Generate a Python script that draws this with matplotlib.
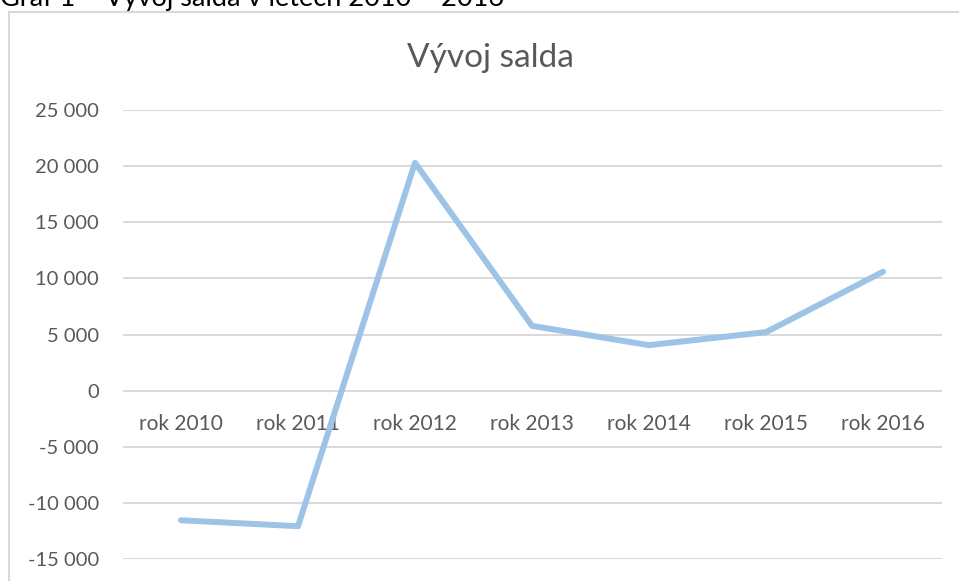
import numpy as np
import matplotlib
matplotlib.use('Agg')
import matplotlib.pyplot as plt
from matplotlib.patches import Rectangle

# data
years = ['rok 2010', 'rok 2011', 'rok 2012', 'rok 2013', 'rok 2014', 'rok 2015', 'rok 2016']
saldo = [-11550, -12080, 20300, 5770, 4050, 5210, 10590]
y_ticks = [-15000, -10000, -5000, 0, 5000, 10000, 15000, 20000, 25000]

plt.rcParams['font.family'] = ['Lato', 'DejaVu Sans']

W, H = 959, 581
fig = plt.figure(figsize=(W / 100, H / 100), dpi=100)

# ramecek grafu (vpravo a dole oriznuty)
fig.patches.append(Rectangle((9 / W, -0.2), 1.2, 1 - 12 / H + 0.2,
                             transform=fig.transFigure, fill=False,
                             edgecolor='#d9d9d9', linewidth=1.5))

# popisek nad grafem - horni cast je oriznuta
fig.text(0 / W, 1 - 6 / H, 'Graf 1 – Vývoj salda v letech 2010 – 2016',
         fontsize=19.5, color='black', va='baseline', ha='left')

ax = fig.add_axes([122.5 / W, 22 / H, (941.5 - 122.5) / W, (559 - 110) / H])

x = np.arange(len(years))
ax.plot(x, saldo, color='#9dc3e6', linewidth=4.3,
        solid_capstyle='round', solid_joinstyle='round', zorder=3)

ax.set_xlim(-0.5, len(years) - 0.5)
ax.set_ylim(-15000, 25000)
ax.set_yticks(y_ticks)
ax.set_yticklabels([f'{v:,}'.replace(',', ' ') for v in y_ticks])
ax.set_xticks(x)
ax.set_xticklabels(years)

ax.grid(axis='y', color='#d9d9d9', linewidth=1.4)
ax.set_axisbelow(True)
for s in ['left', 'right', 'top']:
    ax.spines[s].set_visible(False)
ax.spines['bottom'].set_position(('data', 0))
ax.spines['bottom'].set_visible(False)

ax.tick_params(axis='y', length=0, pad=17, labelsize=14.5, labelcolor='#595959')
ax.tick_params(axis='x', length=0, pad=17, labelsize=15, labelcolor='#595959')

fig.text(490 / W, 1 - 58 / H, 'Vývoj salda', fontsize=24, color='#595959',
         ha='center', va='center')

fig.savefig('out.png', dpi=100)
